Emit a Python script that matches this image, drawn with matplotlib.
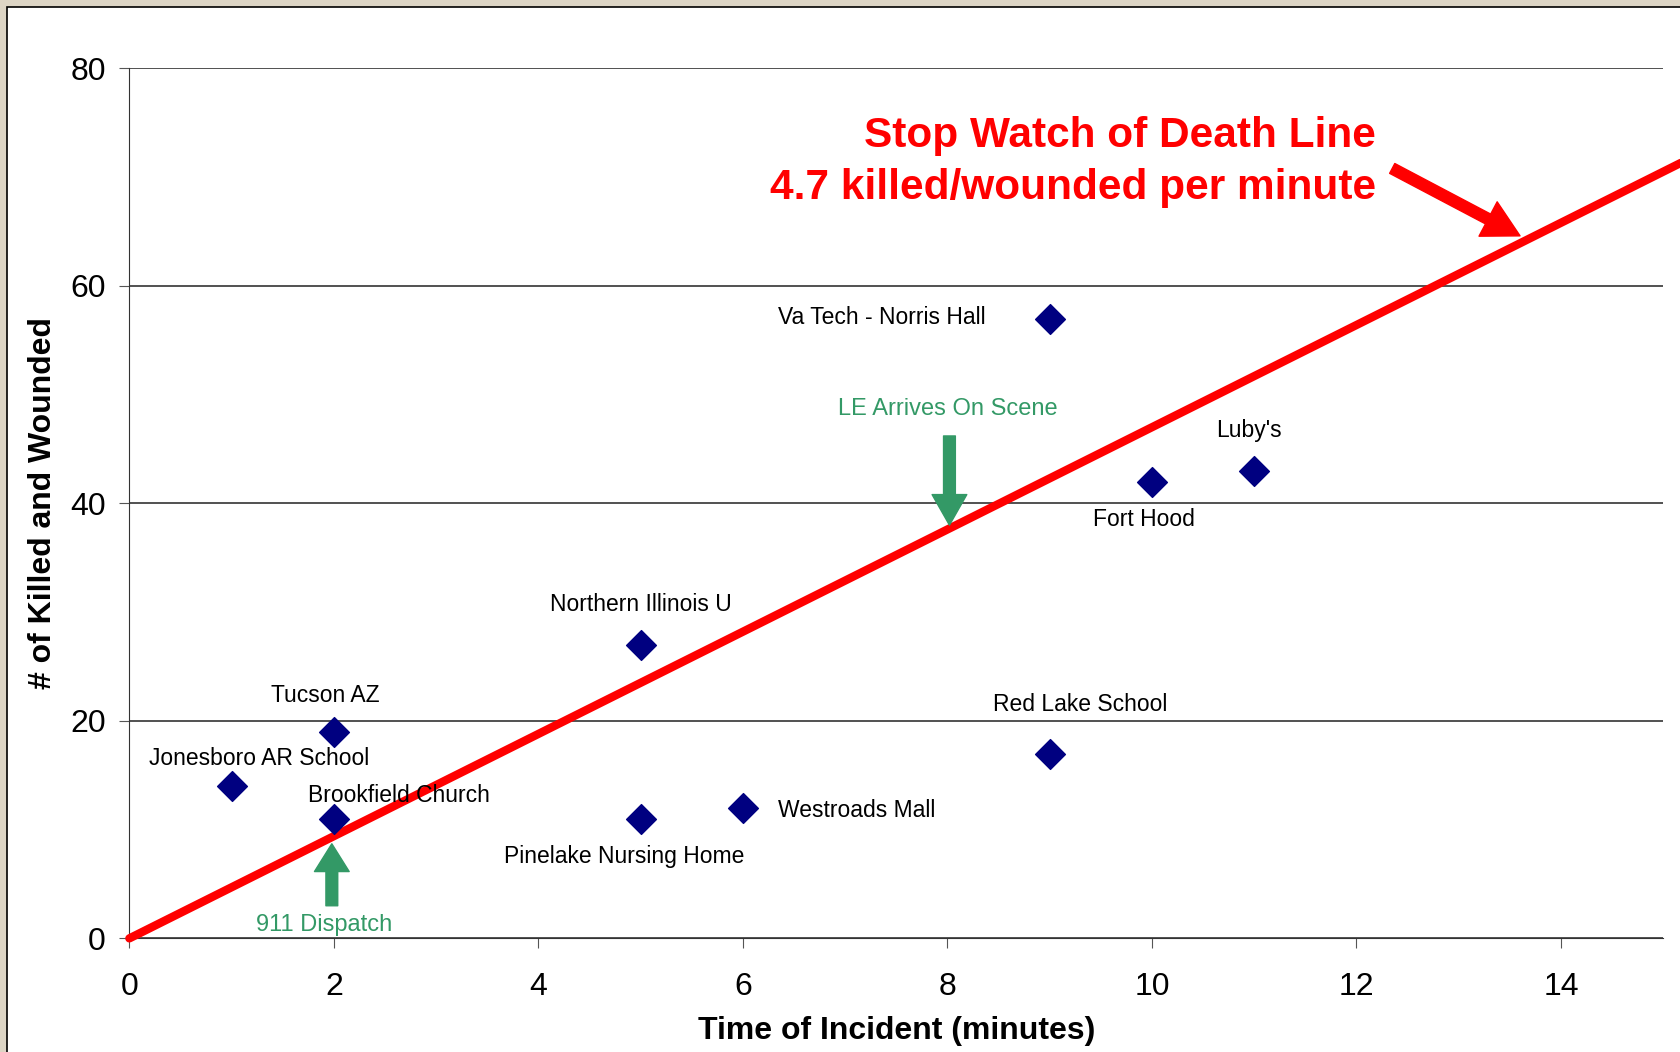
import matplotlib
matplotlib.use("Agg")
import matplotlib.pyplot as plt
from matplotlib.patches import Rectangle

plt.rcParams["font.family"] = ["Liberation Sans", "DejaVu Sans"]

# incidents: time to stop (minutes) vs killed + wounded
names = ["Jonesboro AR School", "Tucson AZ", "Brookfield Church", "Northern Illinois U",
         "Pinelake Nursing Home", "Westroads Mall", "Va Tech - Norris Hall",
         "Red Lake School", "Fort Hood", "Luby's"]
minutes = [1, 2, 2, 5, 5, 6, 9, 9, 10, 11]
casualties = [14, 19, 11, 27, 11, 12, 57, 17, 42, 43]

rate = 4.7  # killed/wounded per minute
line_x = [0, 15.2]

# label offsets (points) and alignment for each incident
label_offsets = [(20, 20), (-6, 26), (47, 17), (0, 29), (-12, -27),
                 (25, -2), (-46, 1), (22, 35), (-6, -27), (-4, 29)]
label_ha = ["center", "center", "center", "center", "center",
            "left", "right", "center", "center", "center"]

fig = plt.figure(figsize=(16.8, 10.52), dpi=100)
fig.patch.set_facecolor("#DDD5C5")
fig.patches.append(Rectangle((7 / 1680, -0.01), 1.02, 1 - 7 / 1052 + 0.01,
                             transform=fig.transFigure, facecolor="white",
                             edgecolor="black", linewidth=1.2, zorder=-10))

ax = fig.add_axes([0.077, 0.108, 0.913, 0.827])
ax.patch.set_alpha(0)
ax.set_xlim(0, 15)
ax.set_ylim(0, 80)
ax.set_xticks(range(0, 15, 2))
ax.set_yticks(range(0, 81, 20))
ax.grid(axis="y", color="#222222", linewidth=1.1)
ax.set_axisbelow(True)
for s in ["top", "right"]:
    ax.spines[s].set_visible(False)
for s in ["left", "bottom"]:
    ax.spines[s].set_color("#333333")
ax.tick_params(axis="x", length=7, color="#555555", labelsize=23, pad=17)
ax.tick_params(axis="y", length=7, color="#555555", labelsize=23, pad=10)

ax.set_xlabel("Time of Incident (minutes)", fontsize=23, fontweight="bold", labelpad=10)
ax.set_ylabel("# of Killed and Wounded", fontsize=23, fontweight="bold", labelpad=9)

ax.plot(line_x, [rate * x for x in line_x], color="#FF0000", linewidth=6,
        solid_capstyle="round", clip_on=False, zorder=3)

ax.scatter(minutes, casualties, marker="D", s=230, color="#000080", zorder=4)

for name, x, y, off, ha in zip(names, minutes, casualties, label_offsets, label_ha):
    ax.annotate(name, (x, y), xytext=off, textcoords="offset points",
                ha=ha, va="center", fontsize=16.5, color="black", zorder=5)

ax.text(12.19, 71.4, "Stop Watch of Death Line\n4.7 killed/wounded per minute",
        ha="right", va="center", fontsize=30.5, fontweight="bold", color="#FF0000",
        linespacing=1.38)
ax.annotate("", xy=(13.6, 64.6), xytext=(12.35, 70.8),
            arrowprops=dict(width=8, headwidth=28, headlength=26, color="#FF0000", shrink=0))

green = "#339966"
ax.annotate("", xy=(8.02, 38.0), xytext=(8.02, 46.2),
            arrowprops=dict(width=8.5, headwidth=25, headlength=22, color=green, shrink=0))
ax.text(8.0, 48.7, "LE Arrives On Scene", ha="center", va="center", fontsize=17, color=green)
ax.annotate("", xy=(1.98, 8.7), xytext=(1.98, 3.0),
            arrowprops=dict(width=8.5, headwidth=25, headlength=20, color=green, shrink=0))
ax.text(1.9, 1.2, "911 Dispatch", ha="center", va="center", fontsize=17, color=green)

fig.savefig("out.png", dpi=100, facecolor=fig.get_facecolor())
